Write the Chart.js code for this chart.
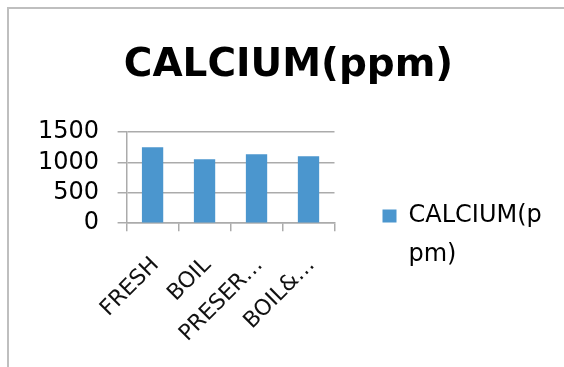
<!DOCTYPE html>
<html lang="en">
<head>
    <meta charset="UTF-8">
    <title>CALCIUM(ppm)</title>
    <script src="https://cdn.jsdelivr.net/npm/chart.js"></script>
    <style>
        html, body { margin: 0; padding: 0; background: #fff; overflow: hidden; }
        .frame {
            position: absolute; left: 7px; top: 7px; width: 600px; height: 400px;
            border-left: 2px solid #bfbfbf; border-top: 2px solid #bfbfbf;
        }
        #calciumChart { position: absolute; left: 0; top: 0; }
    </style>
</head>
<body>
    <div class="frame"></div>
    <canvas id="calciumChart" width="564" height="367"></canvas>
<script>
    // values
    const categories = ['FRESH', 'BOIL', 'PRESER…', 'BOIL&…'];
    const calcium = [1245, 1050, 1130, 1100];
    const seriesName = 'CALCIUM(ppm)';
    const legendLines = ['CALCIUM(p', 'pm)'];   // the legend wraps in the original
    const yTicks = [0, 500, 1000, 1500];

    const font = 'DejaVu Sans';
    const gridColor = '#ababab';
    const barColor = '#4b96ce';

    // the built-in legend can't get wide enough beside the y axis,
    // so the legend is drawn in space kept free by an empty right axis
    const sideLegend = {
        id: 'sideLegend',
        afterDraw: function(chart) {
            const c = chart.ctx;
            const x = chart.chartArea.right + 48;
            const y = 216;
            c.save();
            c.fillStyle = chart.data.datasets[0].backgroundColor;
            c.fillRect(x, y - 6.5, 14, 13);
            c.fillStyle = '#000';
            c.font = '24px "' + font + '"';
            c.textAlign = 'left';
            c.textBaseline = 'middle';
            legendLines.forEach(function(line, i) {
                c.fillText(line, x + 26, y + i * 39);
            });
            c.restore();
        }
    };

    const ctx = document.getElementById('calciumChart').getContext('2d');
    new Chart(ctx, {
        type: 'bar',
        data: {
            labels: categories,
            datasets: [{
                label: seriesName,
                data: calcium,
                backgroundColor: barColor,
                borderWidth: 0,
                categoryPercentage: 1,
                barPercentage: 0.41
            }]
        },
        options: {
            responsive: false,
            animation: false,
            layout: { padding: { left: 19.5, right: 6.5, top: 0, bottom: -1 } },
            plugins: {
                title: {
                    display: true,
                    text: seriesName,
                    color: '#000',
                    font: { family: font, size: 39, weight: 'bold' },
                    padding: { top: 42, bottom: 43 }
                },
                legend: { display: false },
                tooltip: { enabled: false }
            },
            scales: {
                x: {
                    offset: true,
                    grid: { offset: true, drawOnChartArea: false, tickLength: 8, color: gridColor, lineWidth: 1.5 },
                    border: { color: gridColor, width: 1.5 },
                    ticks: {
                        minRotation: 45,
                        maxRotation: 45,
                        autoSkip: false,
                        padding: 21,
                        labelOffset: 3,
                        color: '#111',
                        font: { family: font, size: 22 }
                    }
                },
                y: {
                    min: yTicks[0],
                    max: yTicks[yTicks.length - 1],
                    afterBuildTicks: function(scale) {
                        scale.ticks = yTicks.map(function(v) { return { value: v }; });
                    },
                    grid: { color: gridColor, lineWidth: 1.5, tickLength: 9 },
                    border: { color: gridColor, width: 1.5 },
                    ticks: {
                        autoSkip: false,
                        padding: 18.5,
                        color: '#000',
                        font: { family: font, size: 24 },
                        callback: function(value) { return String(value); }
                    }
                },
                legendSpace: {
                    type: 'linear',
                    position: 'right',
                    grid: { display: false },
                    border: { display: false },
                    ticks: { display: false },
                    afterFit: function(scale) { scale.width = 223; }
                }
            }
        },
        plugins: [sideLegend]
    });
</script>
</body>
</html>
